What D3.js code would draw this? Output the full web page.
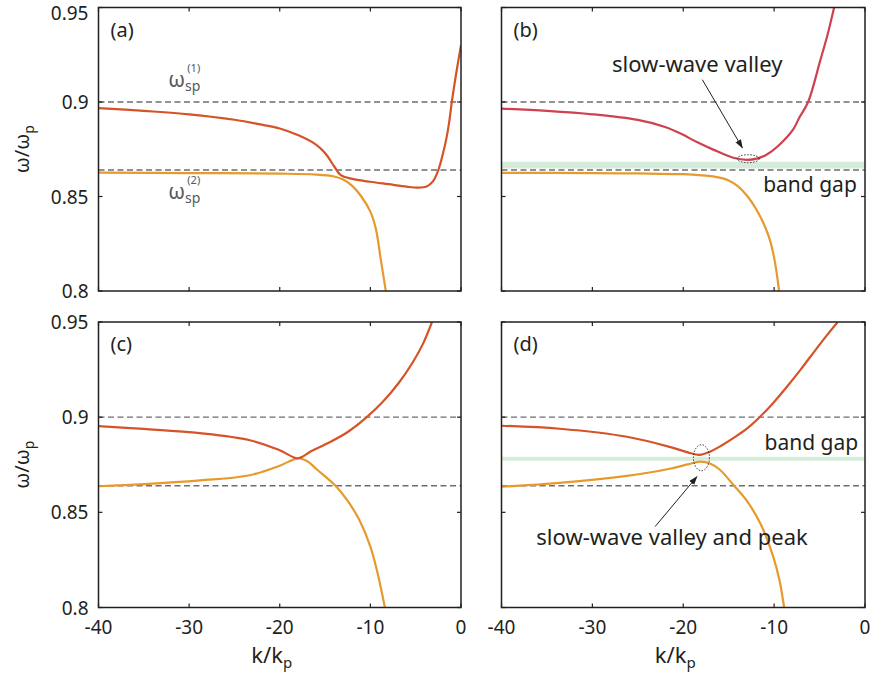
<!DOCTYPE html>
<html lang="en">
<head>
<meta charset="UTF-8">
<title>Slow-wave dispersion</title>
<script src="https://d3js.org/d3.v7.min.js"></script>
<style>
  body { margin: 0; background: #ffffff; }
  svg { font-family: "Noto Sans", sans-serif; }
  text { fill: #231f20; }
  .frame { fill: none; stroke: #231f20; stroke-width: 1.5; }
  .tick { stroke: #231f20; stroke-width: 1.2; }
  .sp { stroke: #6d6e71; stroke-width: 1.4; stroke-dasharray: 6,3.5; }
  .curve { fill: none; stroke-width: 2.2; }
</style>
</head>
<body>
<script>

var xTicks = [-40, -30, -20, -10, 0];
var yTicks = [0.8, 0.85, 0.9, 0.95];
var spLevels = [0.9, 0.864];

// (a)
var aRedK = [-40, -35, -30, -25, -22, -20, -18, -16, -15, -14, -13.3, -12, -10, -8, -6, -4.8, -3.8, -3.1, -2.5, -2, -1.6, -1.3, -1, -0.5, 0];
var aRedW = [0.8968, 0.8953, 0.8935, 0.8906, 0.8880, 0.8860, 0.8825, 0.8775, 0.8730, 0.8660, 0.8614, 0.8593, 0.8578, 0.8565, 0.8552, 0.8547, 0.8553, 0.8580, 0.8640, 0.8725, 0.8810, 0.8895, 0.9005, 0.9160, 0.9300];
var aOrK = [-40, -30, -20, -16, -14, -13, -12, -11, -10, -9.4, -8.84, -8.3];
var aOrW = [0.8626, 0.8624, 0.8621, 0.8616, 0.8606, 0.8590, 0.8556, 0.8500, 0.8420, 0.8330, 0.8163, 0.8000];

// (b)
var bRedK = [-40, -35, -30, -25, -22, -20.3, -18.5, -16.7, -14.5, -13, -11.8, -10.8, -9.5, -7.9, -7.25, -6.26, -4.95, -4.1, -3.4];
var bRedW = [0.8965, 0.8953, 0.8935, 0.8905, 0.8868, 0.8833, 0.8788, 0.8748, 0.8705, 0.8694, 0.8702, 0.8722, 0.8770, 0.8855, 0.8915, 0.9000, 0.9215, 0.9360, 0.9500];
var bOrK = [-40, -30, -25, -20, -18, -16, -15, -14, -13, -12, -11, -10.4, -9.9, -9.45];
var bOrW = [0.8625, 0.8624, 0.8622, 0.8618, 0.8612, 0.8600, 0.8585, 0.8555, 0.8505, 0.8435, 0.8340, 0.8260, 0.8150, 0.8000];
var bGap = [0.8648, 0.8684];

// (c)
var cRedK = [-40, -35, -28.8, -23.3, -20, -18, -16.5, -14.5, -12.5, -10.4, -8.6, -6.9, -5.3, -4.2, -3.2];
var cRedW = [0.8953, 0.8938, 0.8916, 0.8879, 0.8826, 0.8784, 0.8822, 0.8868, 0.8922, 0.9000, 0.9082, 0.9178, 0.9290, 0.9385, 0.9500];
var cOrK = [-40, -35, -28.8, -23.3, -20, -18, -17, -15.9, -13.9, -12.5, -11.2, -10, -9.2, -8.4];
var cOrW = [0.8637, 0.8648, 0.8668, 0.8695, 0.8745, 0.8784, 0.8770, 0.8725, 0.8642, 0.8560, 0.8458, 0.8320, 0.8180, 0.8000];

// (d)
var dRedK = [-40, -33.6, -26.2, -21.5, -19.5, -18.2, -17, -16, -14.5, -13, -11.6, -10.1, -8.5, -7, -5.5, -4.2, -3];
var dRedW = [0.8955, 0.8939, 0.8897, 0.8844, 0.8815, 0.8802, 0.8820, 0.8845, 0.8890, 0.8940, 0.9000, 0.9075, 0.9165, 0.9255, 0.9350, 0.9430, 0.9500];
var dOrK = [-40, -33.6, -26.2, -21.5, -19.5, -18.2, -17, -16, -14.5, -13, -11.5, -10.1, -9.4, -8.9];
var dOrW = [0.8635, 0.8655, 0.8692, 0.8729, 0.8752, 0.8766, 0.8755, 0.8725, 0.8645, 0.8560, 0.8440, 0.8267, 0.8140, 0.8000];
var dGap = [0.8771, 0.8792];

var red = "#d65328", orange = "#e69a2c", crimson = "#cf4150";

var svg = d3.select("body").append("svg")
  .attr("width", 871)
  .attr("height", 677);

var panels = [
  {id: "a", x0: 98.5, x1: 461, y0: 7.5, y1: 291, curves: [[aOrK, aOrW, orange], [aRedK, aRedW, red]], gap: null, left: true, bottom: false},
  {id: "b", x0: 501.5, x1: 865, y0: 7.5, y1: 291, curves: [[bOrK, bOrW, orange], [bRedK, bRedW, crimson]], gap: bGap, left: false, bottom: false},
  {id: "c", x0: 98.5, x1: 461, y0: 322, y1: 607.5, curves: [[cOrK, cOrW, orange], [cRedK, cRedW, red]], gap: null, left: true, bottom: true},
  {id: "d", x0: 501.5, x1: 865, y0: 322, y1: 607.5, curves: [[dOrK, dOrW, orange], [dRedK, dRedW, red]], gap: dGap, left: false, bottom: true}
];

panels.forEach(function(p) {
  var x = d3.scaleLinear().domain([-40, 0]).range([p.x0, p.x1]);
  var y = d3.scaleLinear().domain([0.8, 0.95]).range([p.y1, p.y0]);
  p.x = x; p.y = y;

  var g = svg.append("g").attr("id", "panel-" + p.id);

  g.append("clipPath").attr("id", "clip-" + p.id)
    .append("rect")
    .attr("x", p.x0).attr("y", p.y0)
    .attr("width", p.x1 - p.x0).attr("height", p.y1 - p.y0);

  var inner = g.append("g").attr("clip-path", "url(#clip-" + p.id + ")");

  if (p.gap) {
    inner.append("rect")
      .attr("x", p.x0).attr("width", p.x1 - p.x0)
      .attr("y", y(p.gap[1])).attr("height", y(p.gap[0]) - y(p.gap[1]))
      .attr("fill", "#d6ecdb");
  }

  inner.selectAll("line.sp").data(spLevels).enter()
    .append("line").attr("class", "sp")
    .attr("x1", p.x0).attr("x2", p.x1)
    .attr("y1", function(d) { return y(d); })
    .attr("y2", function(d) { return y(d); });

  var line = d3.line()
    .x(function(d) { return x(d[0]); })
    .y(function(d) { return y(d[1]); })
    .curve(d3.curveCatmullRom.alpha(0.5));

  p.curves.forEach(function(c) {
    var pts = c[0].map(function(k, i) { return [k, c[1][i]]; });
    inner.append("path").attr("class", "curve")
      .attr("d", line(pts))
      .attr("stroke", c[2]);
  });

  // frame
  g.append("rect").attr("class", "frame")
    .attr("x", p.x0).attr("y", p.y0)
    .attr("width", p.x1 - p.x0).attr("height", p.y1 - p.y0);

  // inward ticks, all four sides
  var tl = 4;
  xTicks.forEach(function(t) {
    g.append("line").attr("class", "tick")
      .attr("x1", x(t)).attr("x2", x(t)).attr("y1", p.y1).attr("y2", p.y1 - tl);
    g.append("line").attr("class", "tick")
      .attr("x1", x(t)).attr("x2", x(t)).attr("y1", p.y0).attr("y2", p.y0 + tl);
  });
  yTicks.forEach(function(t) {
    g.append("line").attr("class", "tick")
      .attr("x1", p.x0).attr("x2", p.x0 + tl).attr("y1", y(t)).attr("y2", y(t));
    g.append("line").attr("class", "tick")
      .attr("x1", p.x1).attr("x2", p.x1 - tl).attr("y1", y(t)).attr("y2", y(t));
  });

  if (p.left) {
    g.selectAll("text.ytl").data(yTicks).enter()
      .append("text").attr("class", "ytl")
      .attr("x", p.x0 - 10)
      .attr("y", function(d) { return Math.max(y(d) + 7, 20); })
      .attr("text-anchor", "end")
      .attr("font-size", 19)
      .text(function(d) { return String(d); });

    var yl = g.append("text")
      .attr("transform", "translate(29," + ((p.y0 + p.y1) / 2) + ") rotate(-90)")
      .attr("text-anchor", "middle")
      .attr("font-size", 20);
    yl.append("tspan").text("ω/ω");
    yl.append("tspan").attr("font-size", 14).attr("dy", 5).text("p");
  }

  if (p.bottom) {
    g.selectAll("text.xtl").data(xTicks).enter()
      .append("text").attr("class", "xtl")
      .attr("x", function(d) { return x(d); })
      .attr("y", 634)
      .attr("text-anchor", "middle")
      .attr("font-size", 19)
      .text(function(d) { return String(d); });

    var xl = g.append("text")
      .attr("x", (p.x0 + p.x1) / 2 - 8)
      .attr("y", 663)
      .attr("text-anchor", "middle")
      .attr("font-size", 22);
    xl.append("tspan").text("k/k");
    xl.append("tspan").attr("font-size", 15).attr("dy", 5).text("p");
  }

  g.append("text")
    .attr("x", p.x0 + 12)
    .attr("y", p.y0 + 29)
    .attr("font-size", 20)
    .text("(" + p.id + ")");
});

// omega_sp labels in (a)
var pa = panels[0];
[[0.9, "(1)"], [0.864, "(2)"]].forEach(function(s, i) {
  var base = i === 0 ? pa.y(s[0]) - 15 : pa.y(s[0]) + 29;
  var t = svg.append("text").attr("x", pa.x(-32.3)).attr("y", base)
    .attr("font-size", 21).style("fill", "#58595b");
  t.append("tspan").text("ω");
  t.append("tspan").attr("font-size", 14).attr("dy", 4).text("sp");
  svg.append("text").attr("x", pa.x(-30.2)).attr("y", base - 15)
    .attr("font-size", 11).style("fill", "#58595b").text(s[1]);
});

// annotations
svg.append("defs").append("marker")
  .attr("id", "arr").attr("viewBox", "0 0 10 10")
  .attr("refX", 9).attr("refY", 5)
  .attr("markerWidth", 9).attr("markerHeight", 9)
  .attr("orient", "auto")
  .append("path").attr("d", "M0,1.5 L10,5 L0,8.5 Z").attr("fill", "#231f20");

var pb = panels[1];
svg.append("text").attr("x", pb.x(-18.46)).attr("y", pb.y(0.9161))
  .attr("text-anchor", "middle").attr("font-size", 22).text("slow-wave valley");
svg.append("line")
  .attr("x1", pb.x(-17.9)).attr("y1", pb.y(0.9118))
  .attr("x2", pb.x(-13.5)).attr("y2", pb.y(0.8758))
  .attr("stroke", "#231f20").attr("stroke-width", 1).attr("marker-end", "url(#arr)");
svg.append("ellipse")
  .attr("cx", pb.x(-12.86)).attr("cy", pb.y(0.870)).attr("rx", 11).attr("ry", 4)
  .attr("fill", "none").attr("stroke", "#231f20").attr("stroke-width", 0.9)
  .attr("stroke-dasharray", "1.5,1.5");
svg.append("text").attr("x", pb.x(-0.9)).attr("y", pb.y(0.8524))
  .attr("text-anchor", "end").attr("font-size", 21).text("band gap");

var pd = panels[3];
svg.append("text").attr("x", pd.x(-0.75)).attr("y", pd.y(0.8829))
  .attr("text-anchor", "end").attr("font-size", 21).text("band gap");
svg.append("ellipse")
  .attr("cx", pd.x(-18.0)).attr("cy", pd.y(0.8787)).attr("rx", 8).attr("ry", 13)
  .attr("fill", "none").attr("stroke", "#231f20").attr("stroke-width", 0.9)
  .attr("stroke-dasharray", "1.5,1.5");
svg.append("line")
  .attr("x1", pd.x(-23.1)).attr("y1", pd.y(0.8425))
  .attr("x2", pd.x(-18.5)).attr("y2", pd.y(0.8687))
  .attr("stroke", "#231f20").attr("stroke-width", 1).attr("marker-end", "url(#arr)");
svg.append("text").attr("x", pd.x(-6.3)).attr("y", pd.y(0.8329))
  .attr("text-anchor", "end").attr("font-size", 22).text("slow-wave valley and peak");

</script>
</body>
</html>
